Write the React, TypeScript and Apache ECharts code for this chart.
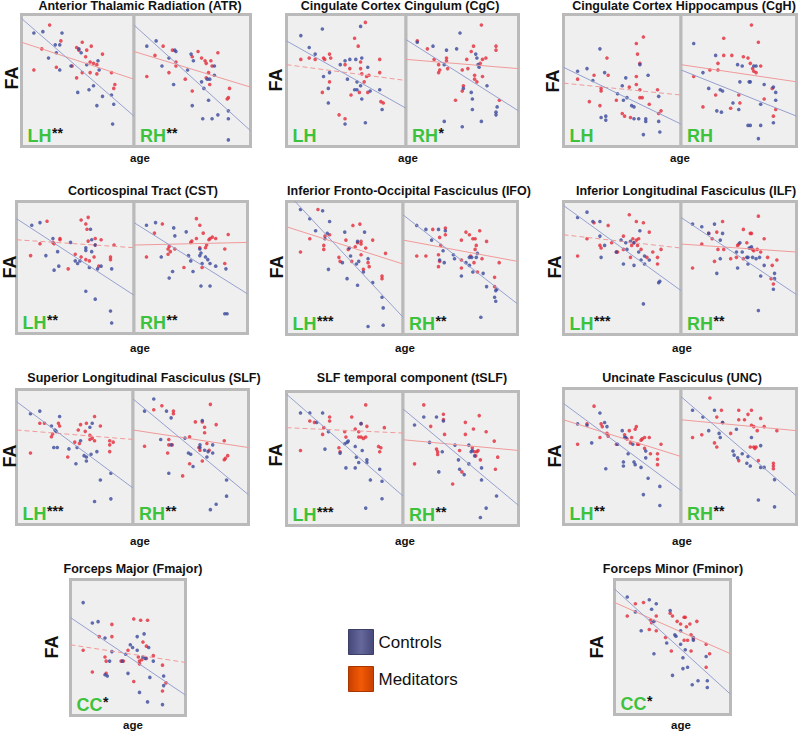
import React, { useEffect, useRef } from "react";
import * as echarts from "echarts";

// Values are [age, FA] on a normalized 0–100 scale inside each panel.
// ---- Anterior Thalamic Radiation ----
const atrLhMed = [[25,92],[18,74],[11,58],[35,80],[31,60],[45,61],[49,75],[54,79],[51,73],[57,68],[58,73],[62,76],[61,64],[64,63],[67,62],[61,56],[54,56],[49,52],[67,55],[72,70],[80,56],[83,47],[82,44]];
const atrLhCtrl = [[11,86],[19,87],[36,86],[30,77],[34,77],[31,71],[24,67],[34,58],[44,61],[51,74],[53,71],[58,62],[68,65],[69,58],[50,41],[60,43],[64,46],[67,31],[72,38],[80,39],[82,32],[81,17]];
const atrLhFitCtrl = [[0,97],[100,23]];
const atrLhFitMed = [[0,79],[100,51]];
const atrRhMed = [[11,53],[18,69],[25,76],[33,73],[36,64],[36,61],[30,56],[44,51],[50,68],[55,72],[58,67],[61,65],[62,63],[66,65],[67,61],[64,56],[62,52],[65,47],[72,71],[50,42],[81,37],[80,36],[82,44]];
const atrRhCtrl = [[11,76],[19,80],[24,61],[30,67],[35,73],[36,72],[49,70],[51,65],[46,58],[58,49],[60,44],[63,51],[65,51],[69,61],[69,54],[34,47],[50,31],[64,35],[59,21],[67,21],[72,24],[81,27],[81,21],[81,5]];
const atrRhFitCtrl = [[0,92],[100,12]];
const atrRhFitMed = [[0,72],[100,45]];
// ---- Cingulate Cortex Cingulum ----
const cgcLhMed = [[12,66],[19,67],[24,66],[31,67],[36,70],[37,67],[32,66],[30,41],[36,49],[44,24],[49,21],[49,62],[53,59],[54,39],[57,82],[60,76],[62,64],[62,59],[63,55],[65,49],[67,53],[69,54],[66,94],[61,41],[78,66],[78,56],[79,34],[81,33],[68,41]];
const cgcLhCtrl = [[12,84],[30,89],[19,75],[24,70],[31,53],[36,56],[35,44],[35,33],[45,62],[49,65],[53,66],[58,66],[63,67],[62,91],[51,51],[59,49],[57,43],[59,43],[62,46],[68,60],[70,42],[63,36],[66,18],[49,17],[78,43],[80,28]];
const cgcLhFitCtrl = [[0,80],[100,29]];
const cgcLhFitMed = [[0,62],[100,50]];
const cgcRhMed = [[10,80],[19,74],[25,66],[29,62],[30,58],[29,56],[36,67],[36,65],[37,59],[44,35],[50,58],[51,46],[50,42],[54,66],[55,59],[58,72],[60,76],[61,54],[61,51],[63,49],[67,92],[66,63],[68,66],[71,67],[68,53],[80,76],[80,73],[83,35]];
const cgcRhCtrl = [[10,79],[24,76],[34,62],[36,73],[45,74],[48,86],[51,44],[58,41],[59,36],[59,28],[62,70],[64,62],[65,60],[63,67],[72,46],[67,19],[50,15],[34,19],[80,26],[81,30],[80,24]];
const cgcRhFitCtrl = [[0,81],[100,27]];
const cgcRhFitMed = [[0,66],[100,59]];
// ---- Cingulate Cortex Hippocampus ----
const cghLhMed = [[12,51],[22,34],[26,54],[31,31],[37,67],[38,54],[32,44],[32,42],[45,35],[50,25],[52,23],[56,45],[57,22],[62,78],[63,70],[65,63],[62,53],[62,47],[65,43],[68,83],[65,37],[67,37],[73,32],[80,43],[81,25],[83,27]];
const cghLhCtrl = [[12,57],[20,59],[25,50],[31,74],[35,56],[32,22],[36,20],[36,23],[46,40],[51,35],[53,52],[54,37],[50,46],[58,31],[60,30],[60,21],[64,21],[65,62],[70,21],[70,19],[72,54],[68,9],[81,38],[81,19],[82,11]];
const cghLhFitCtrl = [[0,60],[100,17]];
const cghLhFitMed = [[0,48],[100,39]];
const cghRhMed = [[11,53],[19,30],[25,58],[32,58],[32,63],[37,82],[37,69],[44,69],[30,39],[43,29],[50,39],[51,33],[54,68],[58,67],[60,63],[62,59],[63,57],[65,56],[61,92],[67,79],[69,61],[72,36],[79,44],[82,28],[80,23]];
const cghRhCtrl = [[11,78],[19,56],[24,44],[30,69],[34,43],[36,42],[31,27],[35,26],[45,33],[49,62],[50,28],[51,49],[53,61],[59,49],[60,49],[63,61],[65,61],[69,32],[72,47],[58,16],[60,16],[67,6],[69,16],[80,45],[82,41],[82,35],[80,18]];
const cghRhFitCtrl = [[0,58],[100,23]];
const cghRhFitMed = [[0,62],[100,49]];
// ---- Corticospinal Tract ----
const cstLhMed = [[12,59],[20,68],[26,85],[31,69],[32,68],[37,72],[37,71],[44,49],[50,60],[55,86],[59,83],[61,88],[60,79],[55,58],[59,56],[62,55],[61,70],[67,72],[72,71],[67,67],[66,58],[70,51],[83,67],[80,58],[80,56]];
const cstLhCtrl = [[13,82],[20,84],[31,72],[25,59],[35,62],[32,48],[36,51],[46,69],[50,55],[54,55],[52,53],[59,63],[59,65],[63,79],[64,71],[64,62],[67,67],[62,50],[69,49],[72,51],[81,49],[59,32],[67,26],[80,17],[81,8]];
const cstLhFitCtrl = [[0,87],[100,29]];
const cstLhFitMed = [[0,71],[100,65]];
const cstRhMed = [[11,58],[18,76],[25,83],[30,64],[32,62],[30,60],[31,66],[36,64],[44,50],[50,69],[51,70],[55,87],[58,82],[58,65],[60,50],[61,76],[63,65],[64,67],[66,71],[67,72],[69,73],[72,72],[83,75],[80,64],[80,53],[55,72]];
const cstRhCtrl = [[11,82],[19,84],[24,58],[31,42],[34,47],[35,80],[36,74],[46,77],[48,59],[50,55],[52,47],[58,59],[58,64],[59,61],[60,53],[63,58],[65,56],[67,53],[72,51],[81,49],[59,36],[67,36],[80,15],[82,15]];
const cstRhFitCtrl = [[0,84],[100,30]];
const cstRhFitMed = [[0,67],[100,69]];
// ---- Inferior Fronto-Occipital Fasciculus ----
const ifoLhMed = [[12,62],[20,72],[27,94],[32,67],[32,64],[33,74],[37,75],[45,58],[46,55],[51,71],[53,64],[57,82],[59,66],[61,69],[63,83],[64,68],[64,70],[64,60],[68,65],[70,54],[71,51],[74,71],[66,49],[82,44],[82,42],[85,61],[56,55]];
const ifoLhCtrl = [[12,94],[20,87],[31,93],[25,78],[37,85],[35,76],[33,72],[36,49],[48,54],[50,77],[54,65],[55,59],[60,53],[61,70],[62,55],[67,77],[70,57],[66,47],[52,42],[61,37],[74,39],[82,28],[83,20],[70,6],[83,7]];
const ifoLhFitCtrl = [[0,107],[100,13]];
const ifoLhFitMed = [[0,81],[100,53]];
const ifoRhMed = [[12,59],[20,59],[26,79],[32,73],[33,67],[31,60],[32,55],[31,51],[37,80],[37,75],[51,71],[51,50],[51,56],[55,77],[58,75],[61,72],[63,72],[64,67],[63,64],[62,54],[65,47],[67,78],[69,57],[73,70],[80,43],[80,36],[84,54],[59,59]];
const ifoRhCtrl = [[12,82],[20,79],[25,71],[31,79],[37,78],[35,63],[32,56],[36,54],[44,60],[45,57],[51,44],[55,54],[58,58],[60,58],[58,52],[61,47],[65,61],[64,58],[70,46],[73,36],[81,33],[82,34],[81,25],[80,28],[68,13]];
const ifoRhFitCtrl = [[0,90],[100,23]];
const ifoRhFitMed = [[0,71],[100,55]];
// ---- Inferior Longitudinal Fasciculus ----
const ilfLhMed = [[12,59],[20,72],[26,84],[31,67],[32,65],[38,82],[41,69],[45,62],[46,62],[51,74],[56,90],[58,67],[59,72],[60,69],[62,85],[62,71],[63,67],[64,72],[66,64],[68,84],[73,77],[71,58],[76,62],[80,58],[80,53],[83,64],[51,64],[57,58]];
const ilfLhCtrl = [[12,88],[20,92],[25,85],[31,85],[31,74],[32,58],[35,67],[45,62],[49,71],[53,69],[54,64],[57,70],[60,69],[64,62],[65,78],[51,53],[60,52],[66,56],[69,59],[69,53],[73,56],[81,39],[82,40],[68,23]];
const ilfLhFitCtrl = [[0,97],[100,33]];
const ilfLhFitMed = [[0,75],[100,65]];
const ilfRhMed = [[10,50],[18,68],[24,76],[27,72],[29,55],[31,77],[36,85],[32,64],[37,64],[43,57],[48,58],[49,67],[50,68],[54,79],[57,69],[60,76],[61,76],[60,65],[62,64],[63,63],[66,64],[67,89],[69,62],[72,72],[75,58],[79,52],[83,56],[78,42],[80,38],[54,57]];
const ilfRhCtrl = [[10,83],[18,81],[24,76],[29,83],[34,71],[36,76],[34,57],[31,46],[49,50],[51,69],[48,62],[53,62],[57,58],[58,58],[59,65],[61,66],[62,58],[65,57],[68,58],[58,53],[72,52],[69,44],[81,46],[81,42],[80,34],[67,18]];
const ilfRhFitCtrl = [[0,88],[100,30]];
const ilfRhFitMed = [[0,68],[100,62]];
// ---- Superior Longitudinal Fasciculus ----
const slfLhMed = [[12,53],[20,75],[24,75],[30,65],[31,67],[36,75],[37,73],[44,50],[50,61],[54,60],[55,74],[59,69],[60,75],[63,66],[63,63],[65,64],[67,62],[67,80],[72,73],[80,59],[80,54],[80,62],[83,61],[53,70]];
const slfLhCtrl = [[12,82],[20,84],[30,73],[33,70],[34,69],[37,80],[32,57],[35,57],[45,56],[51,45],[52,57],[55,62],[58,51],[60,50],[60,47],[63,72],[65,75],[64,52],[69,54],[81,38],[72,33],[67,17],[81,19]];
const slfLhFitCtrl = [[0,91],[100,27]];
const slfLhFitMed = [[0,70],[100,63]];
const slfRhMed = [[10,58],[18,85],[25,88],[31,63],[31,59],[30,53],[34,59],[35,84],[35,82],[43,36],[49,65],[49,45],[54,76],[57,57],[58,55],[60,76],[62,72],[62,68],[60,47],[64,60],[66,55],[67,89],[72,74],[79,62],[79,48],[82,51],[80,49]];
const slfRhCtrl = [[10,84],[18,93],[24,63],[29,84],[33,79],[33,59],[31,38],[45,64],[48,53],[50,52],[52,43],[58,59],[58,57],[60,77],[62,55],[64,50],[65,54],[69,59],[69,53],[81,33],[81,21],[72,15],[67,11]];
const slfRhFitCtrl = [[0,93],[100,22]];
const slfRhFitMed = [[0,70],[100,57]];
// ---- SLF temporal component ----
const tslfLhMed = [[12,56],[20,78],[24,77],[31,68],[32,73],[37,81],[37,78],[45,58],[50,70],[51,66],[56,81],[59,72],[62,70],[62,66],[64,76],[64,66],[66,65],[68,90],[68,66],[69,74],[79,59],[80,55],[81,58],[84,73],[46,55]];
const tslfLhCtrl = [[12,84],[20,84],[26,77],[31,84],[36,70],[33,57],[46,54],[50,61],[52,62],[53,63],[59,59],[60,51],[62,47],[59,43],[64,76],[65,56],[69,49],[69,47],[51,43],[72,34],[80,42],[82,33],[82,20],[68,13]];
const tslfLhFitCtrl = [[0,98],[100,22]];
const tslfLhFitMed = [[0,73],[100,69]];
const tslfRhMed = [[10,46],[18,90],[24,74],[29,57],[30,55],[30,53],[35,83],[35,79],[36,68],[43,31],[49,56],[51,40],[54,77],[54,68],[60,58],[61,72],[62,55],[63,52],[64,55],[65,56],[66,82],[72,70],[67,49],[79,63],[80,42],[82,51]];
const tslfRhCtrl = [[10,75],[18,81],[29,81],[35,78],[23,62],[34,55],[31,40],[45,60],[48,49],[49,42],[53,38],[57,46],[60,56],[59,55],[62,52],[57,60],[68,43],[68,34],[81,22],[72,13],[67,6]];
const tslfRhFitCtrl = [[0,87],[100,15]];
const tslfRhFitMed = [[0,64],[100,56]];
// ---- Uncinate Fasciculus ----
const uncLhMed = [[12,59],[20,74],[26,87],[31,64],[32,74],[33,72],[37,67],[38,65],[45,59],[52,66],[54,63],[56,69],[57,60],[58,64],[61,70],[62,72],[63,59],[64,59],[66,62],[67,63],[69,64],[73,64],[69,56],[74,52],[80,52],[80,48],[83,59],[80,44]];
const uncLhCtrl = [[12,74],[20,73],[24,60],[31,82],[35,75],[37,72],[36,41],[46,59],[50,69],[52,64],[51,46],[51,43],[53,64],[55,52],[59,59],[60,46],[61,44],[66,42],[70,54],[70,49],[72,34],[82,28],[68,22],[82,14]];
const uncLhFitCtrl = [[0,89],[100,25]];
const uncLhFitMed = [[0,77],[100,50]];
const uncRhMed = [[10,64],[18,66],[25,93],[29,60],[31,57],[31,79],[35,84],[36,75],[43,67],[50,84],[50,77],[50,47],[55,77],[58,81],[61,84],[61,73],[63,72],[66,69],[60,57],[63,57],[65,57],[64,56],[67,47],[69,78],[72,72],[80,45],[80,43],[80,41],[83,69]];
const uncRhCtrl = [[10,84],[19,79],[24,69],[29,84],[33,67],[34,64],[36,75],[45,54],[46,51],[49,49],[53,52],[58,50],[57,45],[60,43],[61,64],[69,42],[72,42],[69,58],[48,70],[81,33],[67,18],[81,13]];
const uncRhFitCtrl = [[0,94],[100,21]];
const uncRhFitMed = [[0,77],[100,69]];
// ---- Forceps Major ----
const fmajMed = [[11,48],[19,32],[25,58],[30,43],[31,40],[36,58],[36,67],[31,31],[44,40],[46,40],[50,48],[55,71],[61,70],[67,70],[55,25],[59,43],[60,40],[62,41],[63,54],[66,51],[66,42],[72,44],[80,37],[80,18],[83,24],[60,38]];
const fmajCtrl = [[11,83],[19,68],[24,69],[30,57],[36,47],[34,40],[30,30],[32,29],[45,40],[48,45],[52,52],[54,50],[58,48],[58,58],[64,60],[68,50],[63,43],[65,42],[72,40],[50,31],[69,28],[81,29],[81,22],[60,17],[67,10],[80,8]];
const fmajFitCtrl = [[0,72],[100,15]];
const fmajFitMed = [[0,52],[100,39]];
// ---- Forceps Minor ----
const fminMed = [[11,73],[18,82],[25,83],[30,63],[31,70],[32,68],[36,73],[36,62],[44,57],[48,75],[49,47],[50,73],[54,69],[57,67],[60,72],[61,72],[62,65],[63,55],[65,67],[66,59],[66,47],[68,56],[71,69],[79,52],[79,35],[82,45],[60,55]];
const fminCtrl = [[11,87],[18,76],[30,85],[32,78],[36,82],[34,69],[23,62],[34,45],[48,77],[45,53],[52,59],[53,58],[57,62],[57,52],[61,48],[68,57],[68,55],[59,42],[59,34],[63,35],[50,29],[67,22],[72,25],[80,25],[80,20],[79,43]];
const fminFitCtrl = [[0,93],[100,15]];
const fminFitMed = [[0,83],[100,45]];

const seriesNames = ["Controls", "Meditators"];

type Half = { label: string; stars: string; ctrl: number[][]; med: number[][]; fitCtrl: number[][]; fitMed: number[][]; dashed: boolean };
type Region = { title: string; tx: number; ty: number; l: number; m?: number; r: number; t: number; b: number; fa: number[]; age: number[]; halves: Half[] };

const H = (label: string, stars: string, ctrl: number[][], med: number[][], fitCtrl: number[][], fitMed: number[][], dashed = false): Half =>
  ({ label, stars, ctrl, med, fitCtrl, fitMed, dashed });

const regions: Region[] = [
  { title: "Anterior Thalamic Radiation (ATR)", tx: 140, ty: 6, l: 20, m: 134, r: 252, t: 13, b: 148, fa: [12, 78], age: [140, 158],
    halves: [H("LH", "**", atrLhCtrl, atrLhMed, atrLhFitCtrl, atrLhFitMed), H("RH", "**", atrRhCtrl, atrRhMed, atrRhFitCtrl, atrRhFitMed)] },
  { title: "Cingulate Cortex Cingulum (CgC)", tx: 400, ty: 6, l: 285, m: 406, r: 520, t: 13, b: 148, fa: [276, 80], age: [408, 158],
    halves: [H("LH", "", cgcLhCtrl, cgcLhMed, cgcLhFitCtrl, cgcLhFitMed, true), H("RH", "*", cgcRhCtrl, cgcRhMed, cgcRhFitCtrl, cgcRhFitMed)] },
  { title: "Cingulate Cortex Hippocampus (CgH)", tx: 684, ty: 6, l: 562, m: 681, r: 798, t: 13, b: 148, fa: [553, 81], age: [680, 158],
    halves: [H("LH", "", cghLhCtrl, cghLhMed, cghLhFitCtrl, cghLhFitMed, true), H("RH", "", cghRhCtrl, cghRhMed, cghRhFitCtrl, cghRhFitMed)] },
  { title: "Corticospinal Tract (CST)", tx: 143, ty: 191, l: 15, m: 134, r: 249, t: 200, b: 335, fa: [10, 267], age: [140, 348],
    halves: [H("LH", "**", cstLhCtrl, cstLhMed, cstLhFitCtrl, cstLhFitMed, true), H("RH", "**", cstRhCtrl, cstRhMed, cstRhFitCtrl, cstRhFitMed)] },
  { title: "Inferior Fronto-Occipital Fasciculus (IFO)", tx: 409, ty: 191, l: 285, m: 403, r: 519, t: 200, b: 336, fa: [277, 267], age: [405, 348],
    halves: [H("LH", "***", ifoLhCtrl, ifoLhMed, ifoLhFitCtrl, ifoLhFitMed), H("RH", "**", ifoRhCtrl, ifoRhMed, ifoRhFitCtrl, ifoRhFitMed)] },
  { title: "Inferior Longitudinal Fasciculus (ILF)", tx: 686, ty: 191, l: 562, m: 681, r: 798, t: 200, b: 336, fa: [555, 267], age: [682, 348],
    halves: [H("LH", "***", ilfLhCtrl, ilfLhMed, ilfLhFitCtrl, ilfLhFitMed, true), H("RH", "**", ilfRhCtrl, ilfRhMed, ilfRhFitCtrl, ilfRhFitMed)] },
  { title: "Superior Longitudinal Fasciculus (SLF)", tx: 144, ty: 378, l: 15, m: 133, r: 250, t: 388, b: 526, fa: [10, 456], age: [140, 541],
    halves: [H("LH", "***", slfLhCtrl, slfLhMed, slfLhFitCtrl, slfLhFitMed, true), H("RH", "**", slfRhCtrl, slfRhMed, slfRhFitCtrl, slfRhFitMed)] },
  { title: "SLF temporal component (tSLF)", tx: 412, ty: 378, l: 285, m: 403, r: 520, t: 390, b: 527, fa: [276, 455], age: [405, 541],
    halves: [H("LH", "***", tslfLhCtrl, tslfLhMed, tslfLhFitCtrl, tslfLhFitMed, true), H("RH", "**", tslfRhCtrl, tslfRhMed, tslfRhFitCtrl, tslfRhFitMed)] },
  { title: "Uncinate Fasciculus (UNC)", tx: 682, ty: 378, l: 562, m: 681, r: 798, t: 387, b: 526, fa: [555, 456], age: [682, 541],
    halves: [H("LH", "**", uncLhCtrl, uncLhMed, uncLhFitCtrl, uncLhFitMed), H("RH", "**", uncRhCtrl, uncRhMed, uncRhFitCtrl, uncRhFitMed)] },
  { title: "Forceps Major (Fmajor)", tx: 133, ty: 569, l: 69, r: 187, t: 578, b: 717, fa: [52, 647], age: [133, 725],
    halves: [H("CC", "*", fmajCtrl, fmajMed, fmajFitCtrl, fmajFitMed, true)] },
  { title: "Forceps Minor (Fminor)", tx: 673, ty: 569, l: 613, r: 732, t: 578, b: 716, fa: [597, 647], age: [681, 725],
    halves: [H("CC", "*", fminCtrl, fminMed, fminFitCtrl, fminFitMed)] },
];

const FONT = '"Liberation Sans", Arial, Helvetica, sans-serif';
const CTRL_DOT = "#3b4a9c";
const MED_DOT = "#e42a3a";
const CTRL_LINE = "#96a0cf";
const MED_LINE = "#f19a9a";
const FRAME = "#bababa";
const PANEL_BG = "#efefef";
const GREEN = "#3dc23d";
const LABEL_SIZE = 18;

function textWidth(text: string, font: string): number {
  try {
    const ctx = document.createElement("canvas").getContext("2d");
    if (ctx) {
      ctx.font = font;
      return ctx.measureText(text).width;
    }
  } catch (e) {}
  return text.length * 13;
}

function buildOption() {
  const grid: any[] = [];
  const xAxis: any[] = [];
  const yAxis: any[] = [];
  const series: any[] = [];
  const graphic: any[] = [];

  regions.forEach((rg) => {
    const edges = rg.halves.length === 2 ? [[rg.l + 1.5, rg.m!], [rg.m!, rg.r - 1.5]] : [[rg.l + 1.5, rg.r - 1.5]];
    rg.halves.forEach((h, k) => {
      const idx = grid.length;
      const [x0, x1] = edges[k];
      grid.push({
        left: x0, top: rg.t + 1.5, width: x1 - x0, height: rg.b - rg.t - 3,
        show: true, borderColor: FRAME, borderWidth: 3, backgroundColor: PANEL_BG,
      });
      xAxis.push({ gridIndex: idx, type: "value", min: 0, max: 100, show: false });
      yAxis.push({ gridIndex: idx, type: "value", min: 0, max: 100, show: false });
      series.push({
        type: "line", name: "Meditators fit", xAxisIndex: idx, yAxisIndex: idx, data: h.fitMed, symbol: "none", silent: true, clip: true,
        lineStyle: { color: MED_LINE, width: 1, type: h.dashed ? [5, 3] : "solid" },
      });
      series.push({
        type: "line", name: "Controls fit", xAxisIndex: idx, yAxisIndex: idx, data: h.fitCtrl, symbol: "none", silent: true, clip: true,
        lineStyle: { color: CTRL_LINE, width: 1 },
      });
      series.push({
        type: "scatter", name: seriesNames[1], xAxisIndex: idx, yAxisIndex: idx, data: h.med, symbol: "circle", symbolSize: 3.6,
        itemStyle: { color: MED_DOT },
      });
      series.push({
        type: "scatter", name: seriesNames[0], xAxisIndex: idx, yAxisIndex: idx, data: h.ctrl, symbol: "circle", symbolSize: 3.6,
        itemStyle: { color: CTRL_DOT },
      });
      const lx = x0 + 6;
      const ly = rg.b - 3;
      graphic.push({
        type: "text", x: lx, y: ly, silent: true,
        style: { text: h.label, align: "left", verticalAlign: "bottom", fill: GREEN, fontSize: LABEL_SIZE, fontWeight: "bold", fontFamily: FONT },
      });
      if (h.stars) {
        const w = textWidth(h.label, `bold ${LABEL_SIZE}px ${FONT}`);
        graphic.push({
          type: "text", x: lx + w + 0.5, y: ly - LABEL_SIZE - 1.5, silent: true,
          style: { text: h.stars, align: "left", verticalAlign: "top", fill: "#111", fontSize: 14, fontWeight: "bold", fontFamily: FONT },
        });
      }
    });
    graphic.push({
      type: "text", x: rg.tx, y: rg.ty, silent: true,
      style: { text: rg.title, align: "center", verticalAlign: "middle", fill: "#111", fontSize: 12.5, fontWeight: "bold", fontFamily: FONT },
    });
    graphic.push({
      type: "text", x: rg.fa[0], y: rg.fa[1], rotation: Math.PI / 2, silent: true,
      style: { text: "FA", align: "center", verticalAlign: "middle", fill: "#111", fontSize: 18, fontWeight: "bold", fontFamily: FONT },
    });
    graphic.push({
      type: "text", x: rg.age[0], y: rg.age[1], silent: true,
      style: { text: "age", align: "center", verticalAlign: "middle", fill: "#111", fontSize: 11.5, fontWeight: "bold", fontFamily: FONT },
    });
  });

  return {
    animation: false,
    backgroundColor: "#ffffff",
    grid, xAxis, yAxis, series, graphic,
    legend: {
      orient: "vertical", left: 343, top: 624, itemWidth: 25, itemHeight: 25, itemGap: 11,
      icon: "rect", selectedMode: false,
      textStyle: { fontSize: 17, color: "#111", fontFamily: FONT },
      data: [
        { name: seriesNames[0], itemStyle: { borderColor: "#3c3e66", borderWidth: 1, opacity: 1, color: { type: "linear", x: 0, y: 0, x2: 1, y2: 0, colorStops: [
          { offset: 0, color: "#46487a" }, { offset: 0.5, color: "#65689a" }, { offset: 1, color: "#46487a" } ] } } },
        { name: seriesNames[1], itemStyle: { borderColor: "#a83600", borderWidth: 1, opacity: 1, color: { type: "linear", x: 0, y: 0, x2: 1, y2: 0, colorStops: [
          { offset: 0, color: "#c83f00" }, { offset: 0.5, color: "#f25a06" }, { offset: 1, color: "#c83f00" } ] } } },
      ],
    },
  };
}

export default function App() {
  const ref = useRef<HTMLDivElement>(null);
  useEffect(() => {
    const chart = echarts.init(ref.current!, null, { renderer: "svg" });
    chart.setOption(buildOption());
    return () => chart.dispose();
  }, []);
  return <div ref={ref} style={{ position: "absolute", left: 0, top: 0, width: 800, height: 732, background: "#fff" }} />;
}
